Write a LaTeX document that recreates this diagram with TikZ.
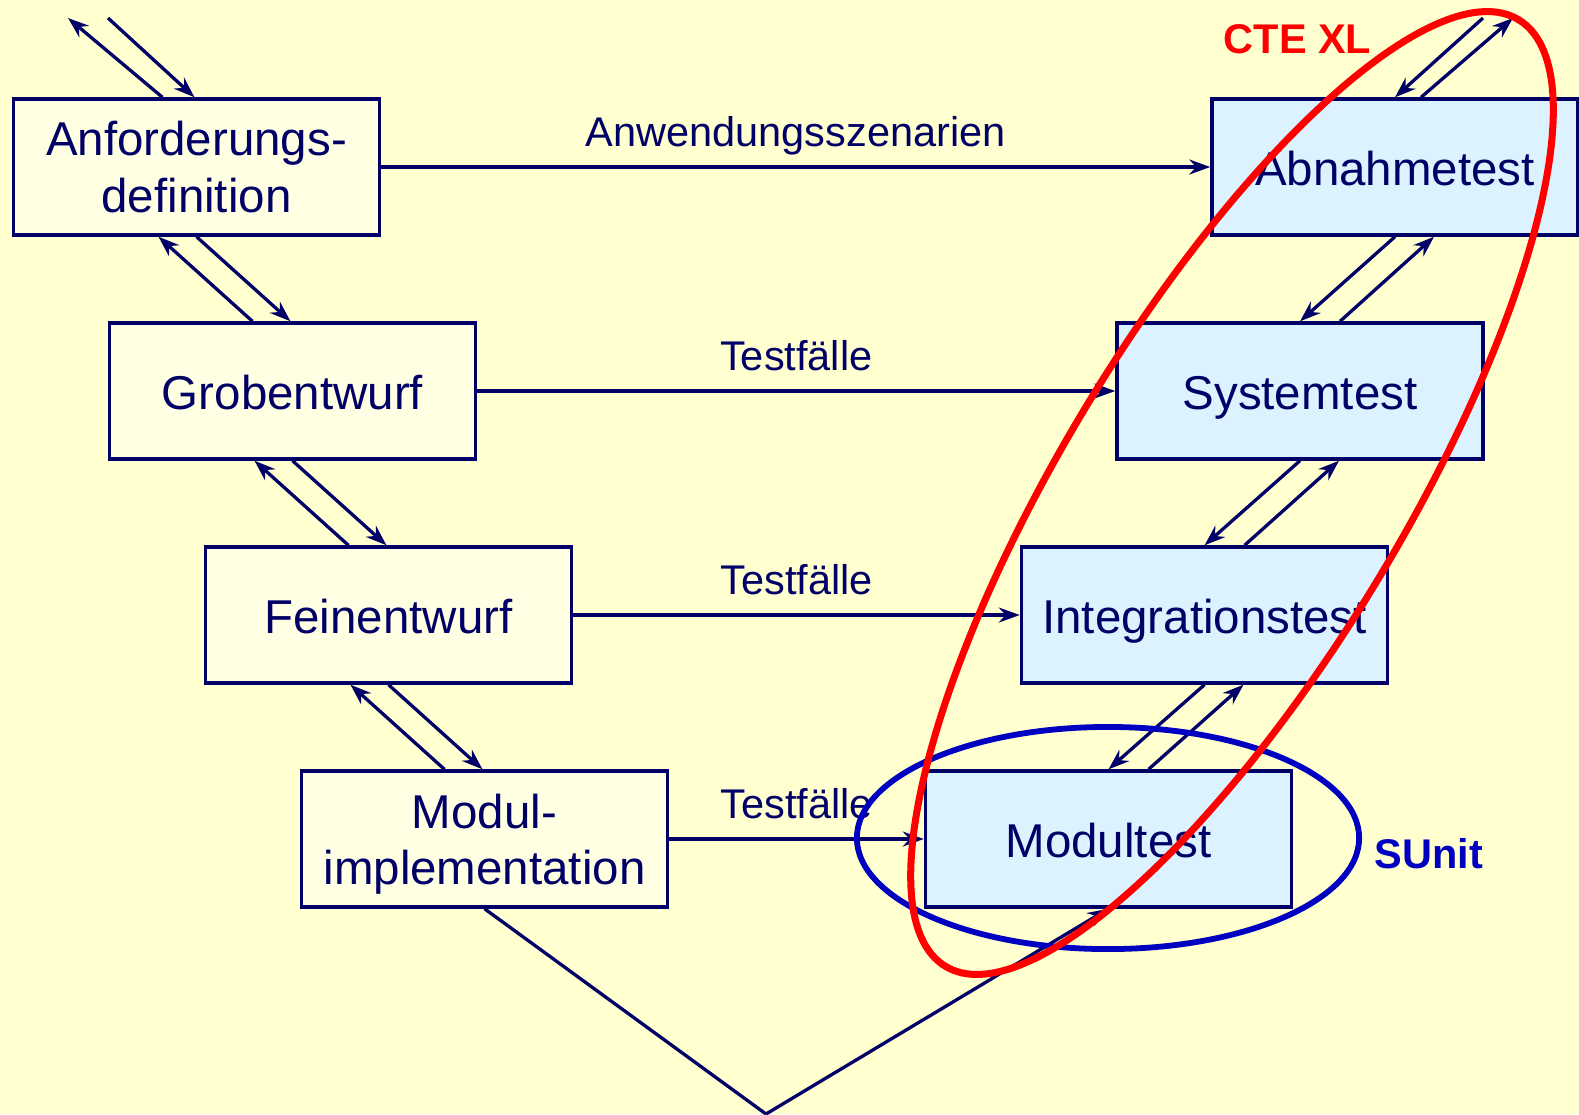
\documentclass[tikz,border=0pt]{standalone}
\usepackage{fontspec}
\setmainfont{Liberation Sans}
\usetikzlibrary{arrows.meta,calc}
\definecolor{bgc}{RGB}{255,255,208}
\definecolor{lfill}{RGB}{255,255,228}
\definecolor{rfill}{RGB}{220,243,255}
\definecolor{navy}{RGB}{0,0,102}
\definecolor{ellblue}{RGB}{0,0,192}
\definecolor{ellred}{RGB}{255,0,0}
\begin{document}
\begin{tikzpicture}[x=0.01cm,y=-0.01cm,
  boxl/.style={draw=navy, fill=lfill, line width=0.033cm, minimum width=3.66cm, minimum height=1.36cm, inner sep=0pt, text=navy, align=center, font=\fontsize{13.5}{16}\selectfont},
  boxr/.style={boxl, fill=rfill},
  oneline/.style={text height=0.36cm, text depth=0pt},
  conn/.style={draw=navy, line width=0.033cm},
  arr/.style={conn, -{Stealth[length=0.21cm, width=0.15cm, inset=0.07cm]}},
  lbl/.style={text=navy, font=\fontsize{11.8}{14}\selectfont, inner sep=0pt},
  ringlbl/.style={font=\bfseries\fontsize{11.8}{14}\selectfont, inner sep=0pt}]
\useasboundingbox (0,0) rectangle (1579,1114);
\fill[bgc] (0,0) rectangle (1579,1114);

% left column
\node[boxl] (anf) at (196.5,167) {Anforderungs-\\definition};
\node[boxl, oneline] (grob) at (292.5,391) {Grobentwurf};
\node[boxl, oneline] (fein) at (388.5,615) {Feinentwurf};
\node[boxl] (modul) at (484.5,839) {Modul-\\\raisebox{0pt}[\height][0pt]{implementation}};
% right column
\node[boxr, oneline] (abn) at (1395,167) {Abnahmetest};
\node[boxr, oneline] (sys) at (1300,391) {Systemtest};
\node[boxr, oneline] (integ) at (1204.5,615) {Integrationstest};
\node[boxr, oneline] (modt) at (1108.5,839) {Modultest};

% free ends
\coordinate (tl1) at (68,18);
\coordinate (tl2) at (108,18);
\coordinate (tr1) at (1483,18);
\coordinate (tr2) at (1513,18);
\coordinate (apex) at (766,1114);

% top arrows
\draw[arr] ([xshift=-0.34cm]anf.north) -- (tl1);
\draw[arr] (tl2) -- ([xshift=-0.02cm]anf.north);
\draw[arr] (tr1) -- (abn.north);
\draw[arr] ([xshift=0.26cm]abn.north) -- (tr2);

% left pairs
\foreach \u/\l in {anf/grob, grob/fein, fein/modul}{
  \draw[arr] ([xshift=-0.40cm]\l.north) -- ([xshift=-0.38cm]\u.south);
  \draw[arr] (\u.south) -- ([xshift=-0.02cm]\l.north);
}
% right pairs
\foreach \u/\l in {abn/sys, sys/integ, integ/modt}{
  \draw[arr] (\u.south) -- (\l.north);
  \draw[arr] ([xshift=0.40cm]\l.north) -- ([xshift=0.39cm]\u.south);
}

% horizontal arrows
\draw[arr] (anf) -- (abn) node[lbl, midway, anchor=base, yshift=0.20cm] {Anwendungsszenarien};
\draw[arr] (grob) -- (sys) node[lbl, midway, anchor=base, yshift=0.21cm] {Testfälle};
\draw[arr] (fein) -- (integ) node[lbl, midway, anchor=base, yshift=0.21cm] {Testfälle};
\draw[arr] (modul) -- (modt) node[lbl, midway, anchor=base, yshift=0.21cm] {Testfälle};

% bottom V
\draw[conn] (modul.south) -- (apex);
\draw[arr] (apex) -- (modt.south);

% ellipses
\draw[ellblue, line width=0.058cm] (1108,838) ellipse [x radius=2.51cm, y radius=1.11cm];
\draw[ellred, line width=0.07cm, rotate around={58.8:(1232,493)}] (1232,493) ellipse [x radius=5.53cm, y radius=1.695cm];

\node[ringlbl, text=ellred, anchor=base] (cte) at (1297.5,53) {CTE XL};
\node[ringlbl, text=ellblue, anchor=base] (sunit) at (1429,868) {SUnit};
\end{tikzpicture}
\end{document}
